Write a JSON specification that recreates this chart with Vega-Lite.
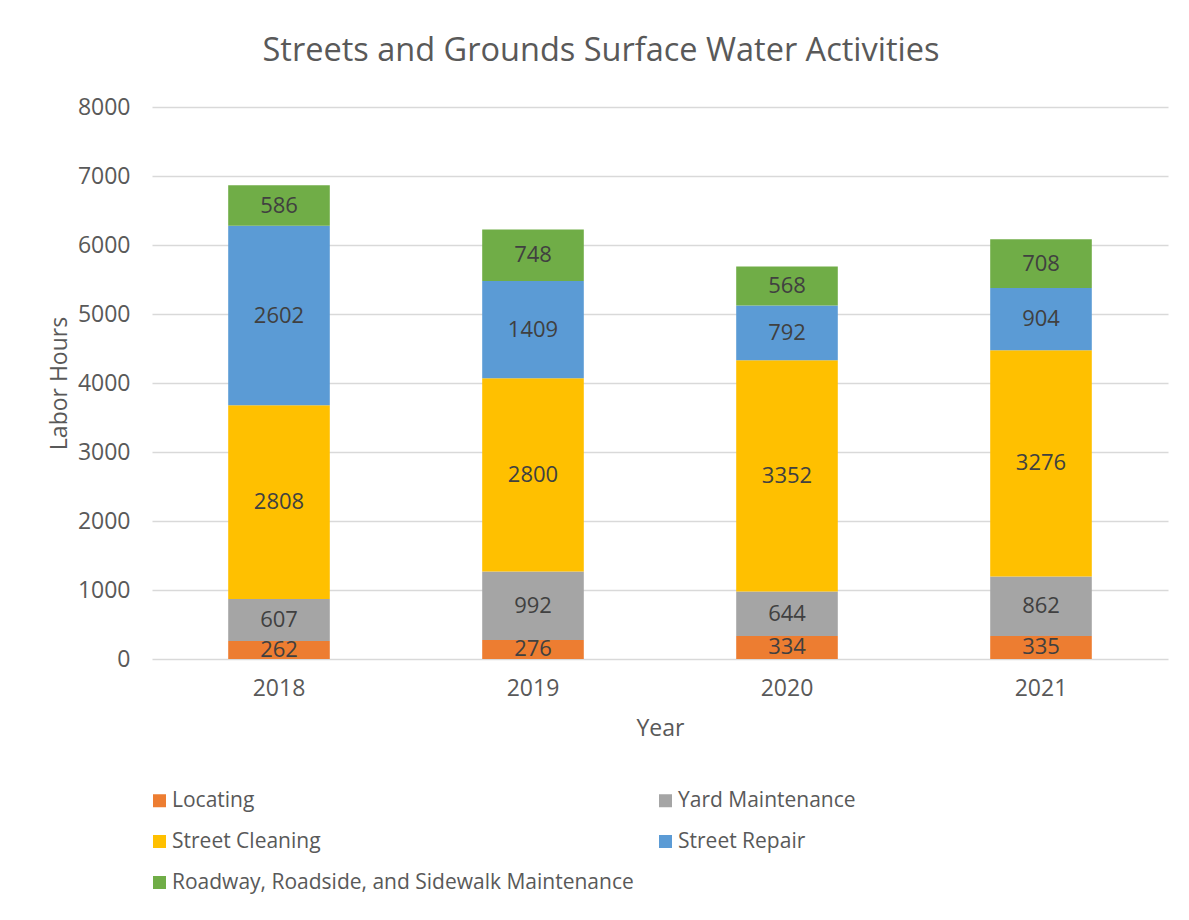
{
  "$schema": "https://vega.github.io/schema/vega-lite/v6.json",
  "width": 1016,
  "height": 552,
  "autosize": {"type": "none"},
  "padding": {"left": 152, "top": 107, "right": 21, "bottom": 261},
  "background": "white",
  "config": {
    "font": "Open Sans",
    "view": {"stroke": null},
    "axis": {"labelColor": "#595959", "titleColor": "#595959", "labelFontSize": 23, "titleFontSize": 23, "titleFontWeight": "normal"}
  },
  "title": {
    "text": "Streets and Grounds Surface Water Activities",
    "fontSize": 32.5,
    "fontWeight": "normal",
    "color": "#595959",
    "anchor": "middle",
    "offset": 29,
    "dx": -59
  },
  "data": {
    "values": [
      {"year": "2018", "activity": "Locating", "ord": 1, "hours": 262},
      {"year": "2018", "activity": "Yard Maintenance", "ord": 2, "hours": 607},
      {"year": "2018", "activity": "Street Cleaning", "ord": 3, "hours": 2808},
      {"year": "2018", "activity": "Street Repair", "ord": 4, "hours": 2602},
      {"year": "2018", "activity": "Roadway, Roadside, and Sidewalk Maintenance", "ord": 5, "hours": 586},
      {"year": "2019", "activity": "Locating", "ord": 1, "hours": 276},
      {"year": "2019", "activity": "Yard Maintenance", "ord": 2, "hours": 992},
      {"year": "2019", "activity": "Street Cleaning", "ord": 3, "hours": 2800},
      {"year": "2019", "activity": "Street Repair", "ord": 4, "hours": 1409},
      {"year": "2019", "activity": "Roadway, Roadside, and Sidewalk Maintenance", "ord": 5, "hours": 748},
      {"year": "2020", "activity": "Locating", "ord": 1, "hours": 334},
      {"year": "2020", "activity": "Yard Maintenance", "ord": 2, "hours": 644},
      {"year": "2020", "activity": "Street Cleaning", "ord": 3, "hours": 3352},
      {"year": "2020", "activity": "Street Repair", "ord": 4, "hours": 792},
      {"year": "2020", "activity": "Roadway, Roadside, and Sidewalk Maintenance", "ord": 5, "hours": 568},
      {"year": "2021", "activity": "Locating", "ord": 1, "hours": 335},
      {"year": "2021", "activity": "Yard Maintenance", "ord": 2, "hours": 862},
      {"year": "2021", "activity": "Street Cleaning", "ord": 3, "hours": 3276},
      {"year": "2021", "activity": "Street Repair", "ord": 4, "hours": 904},
      {"year": "2021", "activity": "Roadway, Roadside, and Sidewalk Maintenance", "ord": 5, "hours": 708}
    ]
  },
  "transform": [
    {"stack": "hours", "groupby": ["year"], "sort": [{"field": "ord", "order": "ascending"}], "as": ["y0", "y1"]},
    {"calculate": "(datum.y0 + datum.y1) / 2", "as": "ymid"}
  ],
  "encoding": {
    "x": {
      "field": "year",
      "type": "ordinal",
      "scale": {"paddingInner": 0.6, "paddingOuter": 0.3},
      "axis": {"title": "Year", "labelAngle": 0, "domain": false, "ticks": false, "labelPadding": 18, "titlePadding": 17}
    }
  },
  "layer": [
    {
      "mark": {"type": "bar"},
      "encoding": {
        "y": {
          "field": "y0",
          "type": "quantitative",
          "scale": {"domain": [0, 8000]},
          "axis": {
            "title": "Labor Hours",
            "values": [0, 1000, 2000, 3000, 4000, 5000, 6000, 7000, 8000],
            "domain": false,
            "ticks": false,
            "gridColor": "#D9D9D9",
            "gridWidth": 1.3,
            "labelPadding": 22,
            "titlePadding": 6,
            "format": "d"
          }
        },
        "y2": {"field": "y1"},
        "color": {
          "field": "activity",
          "type": "nominal",
          "scale": {
            "domain": ["Locating", "Street Cleaning", "Roadway, Roadside, and Sidewalk Maintenance", "Yard Maintenance", "Street Repair"],
            "range": ["#ED7D31", "#FFC000", "#70AD47", "#A5A5A5", "#5B9BD5"]
          },
          "legend": {
            "title": null,
            "orient": "none",
            "legendX": -3,
            "legendY": 683,
            "columns": 2,
            "columnPadding": 21,
            "rowPadding": 19,
            "symbolType": "square",
            "symbolSize": 169,
            "symbolStrokeWidth": 0,
            "labelFontSize": 21,
            "labelColor": "#595959",
            "labelOffset": 2,
            "labelLimit": 600
          }
        }
      }
    },
    {
      "mark": {"type": "text", "fontSize": 22, "color": "#404040", "baseline": "middle"},
      "encoding": {
        "y": {"field": "ymid", "type": "quantitative"},
        "text": {"field": "hours", "type": "quantitative"}
      }
    }
  ]
}
